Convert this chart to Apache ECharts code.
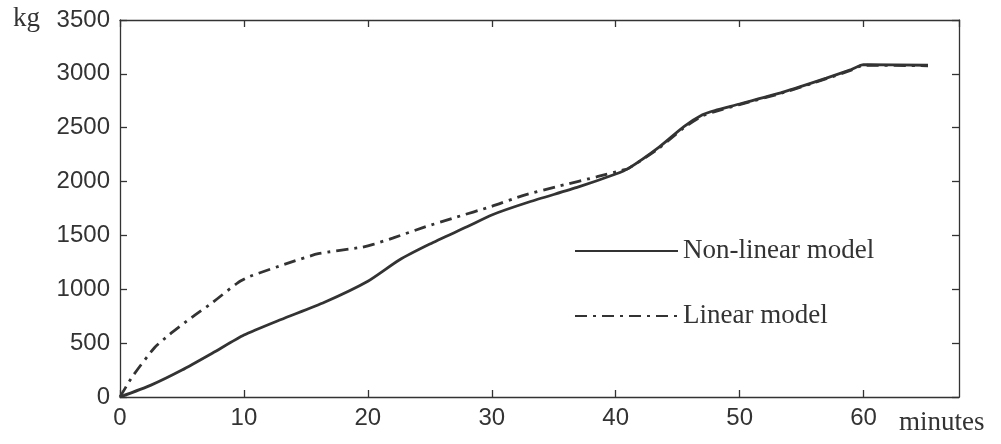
<!DOCTYPE html>
<html>
<head>
<meta charset="utf-8">
<script src="https://cdn.jsdelivr.net/npm/echarts@6/dist/echarts.min.js"></script>
<style>
  html, body { margin: 0; padding: 0; background: #fff; }
  #chart { width: 1001px; height: 444px; }
</style>
</head>
<body>
<div id="chart"></div>
<script>
// minutes / kg
const nonLinearT = [0, 2.5, 5, 7.5, 10, 13, 16.5, 20, 22.5, 25, 28, 30, 33, 37, 40, 41, 43.5, 45.5, 47, 48, 50, 53.5, 57, 59, 60, 65.2]
const nonLinearKg = [0, 110, 250, 410, 575, 720, 880, 1075, 1270, 1420, 1580, 1690, 1810, 1950, 2070, 2120, 2320, 2510, 2620, 2660, 2720, 2830, 2960, 3040, 3085, 3080]

const linearT = [0, 1, 2.8, 4, 5.8, 7.5, 9.5, 10.5, 13.5, 16, 19.5, 20.5, 22, 24.5, 27, 30, 32.5, 35.5, 38.5, 40.5, 41, 43.5, 45.5, 47, 48, 50, 53.5, 57, 59, 60, 65.2]
const linearKg = [0, 190, 460, 580, 740, 880, 1060, 1120, 1240, 1330, 1390, 1420, 1475, 1575, 1665, 1770, 1870, 1960, 2045, 2105, 2120, 2310, 2500, 2610, 2650, 2715, 2825, 2955, 3035, 3080, 3075]

const seriesNames = ['Non-linear model', 'Linear model']

const ink = '#333'
const sans = 'Arial, "Liberation Sans", sans-serif'
const serif = '"Times New Roman", "Liberation Serif", serif'

function pairs (xs, ys) {
  return xs.map((x, i) => [x, ys[i]])
}

function axisLine () {
  return { show: true, onZero: false, lineStyle: { color: ink, width: 1.3 } }
}
function axisTick () {
  return { show: true, inside: true, length: 7, lineStyle: { color: ink, width: 1.3 } }
}

const chart = echarts.init(document.getElementById('chart'))

const option = {
  animation: false,
  backgroundColor: '#fff',
  grid: { left: 120, right: 42, top: 20, bottom: 47, outerBoundsMode: 'none', containLabel: false },
  legend: {
    orient: 'vertical',
    left: 574,
    top: 236,
    padding: 0,
    itemWidth: 103,
    itemHeight: 14,
    itemGap: 35,
    data: seriesNames,
    itemStyle: { opacity: 0 },
    textStyle: { fontFamily: serif, fontSize: 27, color: ink, lineHeight: 30 }
  },
  xAxis: [
    {
      type: 'value',
      min: 0,
      max: 67.7,
      interval: 10,
      name: 'minutes',
      nameLocation: 'end',
      nameGap: -60,
      nameTextStyle: { fontFamily: serif, fontSize: 27, color: ink, align: 'left', verticalAlign: 'top', padding: [12, 0, 0, 0] },
      axisLine: axisLine(),
      axisTick: axisTick(),
      splitLine: { show: false },
      axisLabel: { fontFamily: sans, fontSize: 24, color: ink, margin: 9, showMaxLabel: false, formatter: v => String(v) }
    },
    {
      type: 'value',
      position: 'top',
      min: 0,
      max: 67.7,
      interval: 10,
      axisLine: axisLine(),
      axisTick: axisTick(),
      splitLine: { show: false },
      axisLabel: { show: false }
    }
  ],
  yAxis: [
    {
      type: 'value',
      min: 0,
      max: 3500,
      interval: 500,
      name: 'kg',
      nameLocation: 'end',
      nameGap: -12,
      nameTextStyle: { fontFamily: serif, fontSize: 27, color: ink, align: 'right', padding: [0, 80, 0, 0] },
      axisLine: axisLine(),
      axisTick: axisTick(),
      splitLine: { show: false },
      axisLabel: { fontFamily: sans, fontSize: 24, color: ink, margin: 10, formatter: v => String(v) }
    },
    {
      type: 'value',
      position: 'right',
      min: 0,
      max: 3500,
      interval: 500,
      axisLine: axisLine(),
      axisTick: axisTick(),
      splitLine: { show: false },
      axisLabel: { show: false }
    }
  ],
  series: [
    {
      name: seriesNames[0],
      type: 'line',
      showSymbol: false,
      symbol: 'none',
      smooth: 0.2,
      data: pairs(nonLinearT, nonLinearKg),
      lineStyle: { color: ink, width: 2.8 },
      itemStyle: { color: ink }
    },
    {
      name: seriesNames[1],
      type: 'line',
      showSymbol: false,
      symbol: 'none',
      smooth: 0.2,
      data: pairs(linearT, linearKg),
      lineStyle: { color: ink, width: 2.8, type: [12, 6, 3, 6] },
      itemStyle: { color: ink }
    }
  ]
}

option && chart.setOption(option)
</script>
</body>
</html>
